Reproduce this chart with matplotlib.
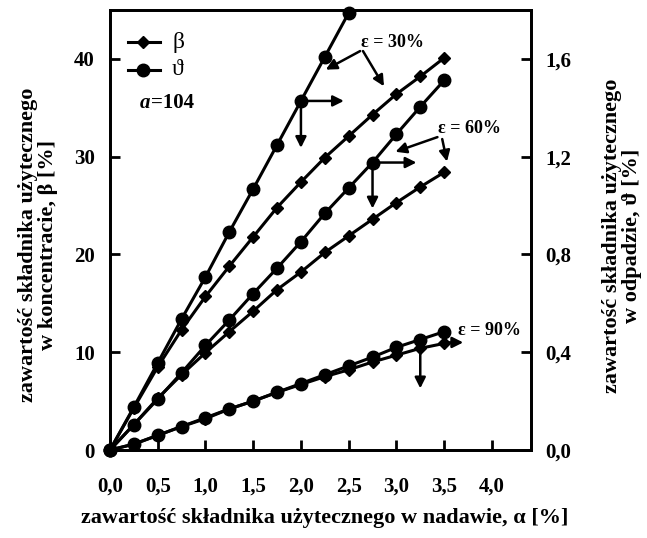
import matplotlib
matplotlib.use("Agg")
import matplotlib.pyplot as plt
import numpy as np

plt.rcParams['font.family'] = ['Liberation Serif', 'DejaVu Serif']
plt.rcParams['font.weight'] = 'bold'

alpha = [0.0, 0.25, 0.5, 0.75, 1.0, 1.25, 1.5, 1.75, 2.0, 2.25, 2.5, 2.75, 3.0, 3.25, 3.5]
alpha_t30 = [0.0, 0.25, 0.5, 0.75, 1.0, 1.25, 1.5, 1.75, 2.0, 2.25, 2.5]

beta_30 = [0, 4.3, 8.5, 12.3, 15.7, 18.8, 21.8, 24.8, 27.4, 29.9, 32.1, 34.3, 36.4, 38.2, 40.1]
beta_60 = [0, 2.6, 5.3, 7.7, 9.95, 12.1, 14.2, 16.4, 18.2, 20.2, 21.9, 23.6, 25.3, 26.9, 28.4]
beta_90 = [0, 0.6, 1.5, 2.4, 3.2, 4.2, 5.0, 5.9, 6.7, 7.5, 8.2, 9.0, 9.7, 10.4, 10.9]

theta_30 = [0, 0.176, 0.356, 0.536, 0.708, 0.892, 1.068, 1.248, 1.428, 1.608, 1.788]
theta_60 = [0, 0.104, 0.208, 0.316, 0.428, 0.532, 0.64, 0.744, 0.852, 0.968, 1.072, 1.176, 1.292, 1.404, 1.512]
theta_90 = [0, 0.024, 0.06, 0.096, 0.132, 0.168, 0.2, 0.236, 0.272, 0.308, 0.344, 0.38, 0.42, 0.452, 0.484]

x_ticks = [0.0, 0.5, 1.0, 1.5, 2.0, 2.5, 3.0, 3.5, 4.0]
x_labels = ['0,0', '0,5', '1,0', '1,5', '2,0', '2,5', '3,0', '3,5', '4,0']
yl_ticks = [0, 10, 20, 30, 40]
yr_ticks = [0.0, 0.4, 0.8, 1.2, 1.6]
yr_labels = ['0,0', '0,4', '0,8', '1,2', '1,6']

W, H = 647, 538
fig = plt.figure(figsize=(W / 100, H / 100), dpi=100)
ax = fig.add_axes([110 / W, 1 - 450 / H, 421 / W, 440 / H])
ax2 = ax.twinx()

ax.set_xlim(0, 4.41)
ax.set_ylim(0, 45)
ax2.set_ylim(0, 1.8)

lw = 2.2
dkw = dict(color='black', lw=lw, marker='D', markersize=6.5, clip_on=False, zorder=3)
ckw = dict(color='black', lw=lw, marker='o', markersize=9, clip_on=False, zorder=3)

for b in (beta_30, beta_60, beta_90):
    ax.plot(alpha, b, **dkw)
ax2.plot(alpha_t30, theta_30, **ckw)
ax2.plot(alpha, theta_60, **ckw)
ax2.plot(alpha, theta_90, **ckw)

ax.set_xticks(x_ticks)
ax.set_xticklabels(x_labels)
ax.set_yticks(yl_ticks)
ax2.set_yticks(yr_ticks)
ax2.set_yticklabels(yr_labels)

fs = 15
for a in (ax, ax2):
    a.tick_params(direction='in', length=7, width=2, labelsize=fs)
    for s in a.spines.values():
        s.set_linewidth(2)
ax.tick_params(axis='x', pad=19)
ax.tick_params(axis='y', pad=11)
ax2.tick_params(axis='y', pad=10)

lfs = 16
fig.text(325 / W, 1 - 518 / H, 'zawartość składnika użytecznego w nadawie, α [%]',
         fontsize=lfs, fontweight='bold', ha='center', va='center')
fig.text(38 / W, 1 - 245 / H, 'zawartość składnika użytecznego\nw koncentracie, β [%]',
         fontsize=lfs, fontweight='bold', ha='center', va='center', rotation=90,
         multialignment='center', linespacing=1.0)
fig.text(622 / W, 1 - 236 / H, 'zawartość składnika użytecznego\nw odpadzie, ϑ [%]',
         fontsize=lfs, fontweight='bold', ha='center', va='center', rotation=90,
         multialignment='center', linespacing=1.0)

# legend
ax.plot([0.19, 0.52], [41.7, 41.7], **{**dkw, 'marker': None})
ax.plot([0.35], [41.7], **dkw)
ax.plot([0.19, 0.52], [38.9, 38.9], **{**ckw, 'marker': None})
ax.plot([0.35], [38.9], **ckw)
ax.text(0.65, 41.7, 'β', fontsize=fs + 2, fontweight='normal', va='center')
ax.text(0.65, 38.9, 'ϑ', fontsize=fs + 2, fontweight='normal', va='center')
ax.text(0.31, 35.5, 'a', fontsize=fs, fontstyle='italic', fontweight='bold', va='center')
ax.text(0.43, 35.5, '=104', fontsize=fs, fontweight='bold', va='center')

akw = dict(arrowstyle='-|>', lw=1.8, color='black', mutation_scale=16, shrinkA=0, shrinkB=0)

# epsilon labels and pointers
ax.text(2.63, 41.7, 'ε = 30%', fontsize=13, va='center')
ax.annotate('', xy=(2.26, 38.9), xytext=(2.62, 40.8), arrowprops=akw)
ax.annotate('', xy=(2.87, 37.2), xytext=(2.65, 40.8), arrowprops=akw)
ax.text(3.44, 32.9, 'ε = 60%', fontsize=13, va='center')
ax.annotate('', xy=(2.99, 30.5), xytext=(3.43, 32.0), arrowprops=akw)
ax.annotate('', xy=(3.53, 29.5), xytext=(3.48, 31.8), arrowprops=akw)
ax.text(3.65, 12.2, 'ε = 90%', fontsize=13, va='center')

# axis pointers
ax.annotate('', xy=(2.45, 35.7), xytext=(2.0, 35.7), arrowprops=akw)
ax.annotate('', xy=(2.0, 30.9), xytext=(2.0, 35.7), arrowprops=akw)
ax.annotate('', xy=(3.21, 29.4), xytext=(2.75, 29.4), arrowprops=akw)
ax.annotate('', xy=(2.75, 24.7), xytext=(2.75, 29.4), arrowprops=akw)
ax.annotate('', xy=(3.7, 11.0), xytext=(3.5, 11.0), arrowprops=akw)
ax.annotate('', xy=(3.25, 6.3), xytext=(3.25, 10.9), arrowprops=akw)

fig.savefig('out.png', dpi=100)
